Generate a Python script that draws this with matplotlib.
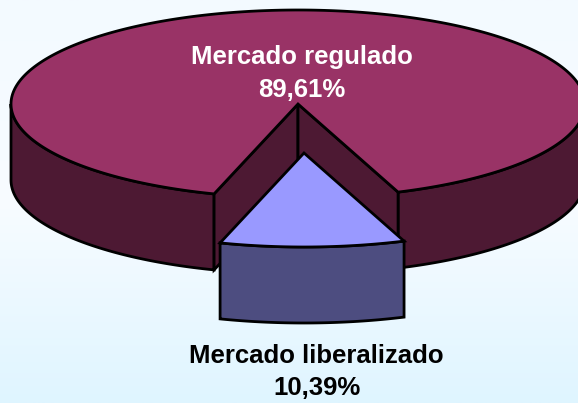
import matplotlib
matplotlib.use("Agg")
import matplotlib.pyplot as plt
import numpy as np
from matplotlib.colors import LinearSegmentedColormap

# data
labels = ["Mercado regulado", "Mercado liberalizado"]
shares = [89.61, 10.39]
share_labels = ["89,61%", "10,39%"]

# look of the 3D pie
cx, cy = 298, 104
rx, ry = 287, 94
depth = 76
slice_start = -17.0          # degrees from straight down
explode = (6, 49)
top_colors = ["#993366", "#9999FF"]
side_colors = ["#4D1933", "#4D4D80"]
lw = 2.0
fs = 18.5

plt.rcParams["font.family"] = ["Liberation Sans", "DejaVu Sans"]

fig = plt.figure(figsize=(5.78, 4.03), dpi=100)
ax = fig.add_axes([0, 0, 1, 1])
ax.set_xlim(0, 578)
ax.set_ylim(403, 0)
ax.axis("off")

# background gradient
bg = LinearSegmentedColormap.from_list("bg", ["#F3FAFF", "#F8FCFF", "#DFF5FF"])
ax.imshow(np.linspace(0, 1, 256).reshape(-1, 1), cmap=bg, extent=(0, 578, 403, 0),
          aspect="auto", zorder=0)


def arc(t1, t2, x0=cx, y0=cy, n=200):
    t = np.radians(np.linspace(t1, t2, n))
    return x0 + rx * np.sin(t), y0 + ry * np.cos(t)


def poly(x, y, color, z):
    ax.fill(x, y, facecolor=color, edgecolor="black", lw=lw, joinstyle="miter", zorder=z)


sweep = 360 * shares[1] / 100
t_a = slice_start
t_b = slice_start + sweep

# big slice: outer wall, left part and right part
for a, b in [(t_b, 90), (270, 360 + t_a)]:
    x, y = arc(a, b)
    poly(np.r_[x, x[::-1]], np.r_[y, y[::-1] + depth], side_colors[0], 2)

# big slice: inner walls
for t in [t_a, t_b]:
    ex, ey = arc(t, t, n=1)
    poly([cx, ex[0], ex[0], cx], [cy, ey[0], ey[0] + depth, cy + depth], side_colors[0], 3)

# big slice: top
x, y = arc(t_b, 360 + t_a, n=400)
poly(np.r_[cx, x], np.r_[cy, y], top_colors[0], 4)

# small slice, pulled out
sx, sy = cx + explode[0], cy + explode[1]
x, y = arc(t_a, t_b, sx, sy)
poly(np.r_[x, x[::-1]], np.r_[y, y[::-1] + depth], side_colors[1], 5)
poly(np.r_[sx, x], np.r_[sy, y], top_colors[1], 6)

ax.text(302, 57, labels[0], color="white", fontsize=fs, fontweight="bold",
        ha="center", va="center", zorder=10)
ax.text(302, 90, share_labels[0], color="white", fontsize=fs, fontweight="bold",
        ha="center", va="center", zorder=10)
ax.text(316, 356, labels[1], color="black", fontsize=fs, fontweight="bold",
        ha="center", va="center", zorder=10)
ax.text(317, 388, share_labels[1], color="black", fontsize=fs, fontweight="bold",
        ha="center", va="center", zorder=10)

fig.savefig("out.png", dpi=100)
